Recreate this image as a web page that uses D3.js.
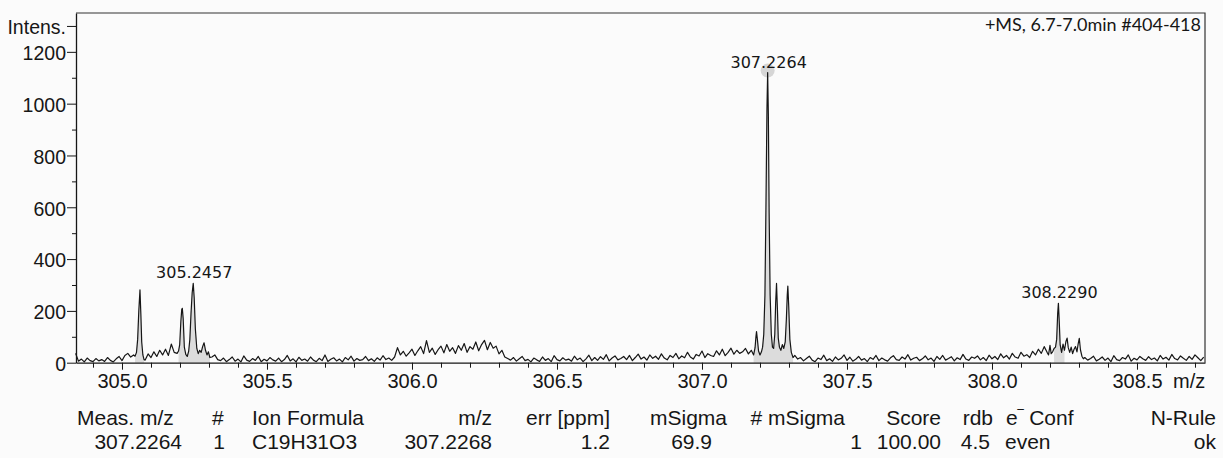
<!DOCTYPE html>
<html>
<head>
<meta charset="utf-8">
<script src="https://cdn.jsdelivr.net/npm/d3@7"></script>
<style>
  html, body { margin: 0; padding: 0; background: #fbfbfb; }
  svg { display: block; }
</style>
</head>
<body>
<svg id="chart" width="1223" height="458"></svg>
<script>
// ---- Spectrum data -------------------------------------------------------
// Baseline profile on a regular m/z grid (one row = 0.1 m/z).
// null marks samples that are covered by a finely sampled peak profile below.
const scanStart = 304.84;
const scanStep = 0.01;
const baselineIntensity = [
  36, 6, 14, 3, 18, 8, 4, 16, 7, 12,
  5, 20, 9, 3, 15, 24, 8, 28, 36, 22,
  30, null, null, null, 10, 34, 20, 42, 24, 48,
  30, 52, 28, 72, 40, 36, null, null, null, null,
  null, null, null, null, null, null, null, 22, 30, 12,
  8, 18, 4, 12, 22, 6, 14, 3, 26, 10,
  5, 16, 9, 24, 4, 13, 7, 20, 11, 6,
  18, 4, 12, 28, 7, 15, 3, 21, 9, 14,
  6, 22, 10, 4, 17, 8, 30, 5, 13, 19,
  7, 14, 3, 20, 11, 25, 6, 16, 9, 12,
  24, 8, 15, 5, 19, 10, 27, 12, 18, 9,
  22, 58, 30, 44, 25, 38, 52, 28, 46, 62,
  35, 85, 40, 56, 32, 50, 64, 38, 70, 44,
  58, 36, 66, 48, 74, 40, 62, 52, 80, 46,
  70, 86, 50, 78, 56, 64, 34, 48, 22, 16,
  10, 20, 6, 15, 24, 8, 13, 3, 18, 11,
  5, 22, 9, 16, 4, 27, 12, 7, 19, 10,
  14, 6, 25, 11, 18, 4, 15, 29, 8, 20,
  9, 23, 13, 31, 7, 18, 26, 11, 16, 24,
  12, 28, 8, 20, 33, 14, 22, 10, 30, 17,
  25, 13, 34, 18, 11, 28, 20, 36, 15, 26,
  19, 40, 22, 14, 32, 26, 45, 20, 35, 28,
  24, 46, 30, 52, 27, 40, 56, 33, 48, 36,
  42, 55, 34, 48, null, null, null, null, null, null,
  null, null, null, null, null, null, null, null, 28, 14,
  20, 7, 16, 25, 10, 4, 18, 12, 29, 8,
  15, 5, 22, 11, 17, 30, 9, 21, 6, 13,
  24, 10, 16, 4, 20, 13, 28, 8, 18, 11,
  6, 19, 27, 12, 9, 22, 14, 31, 10, 17,
  21, 8, 15, 26, 11, 18, 5, 24, 13, 28,
  10, 16, 23, 7, 19, 12, 32, 14, 9, 22,
  17, 26, 11, 20, 8, 29, 15, 24, 12, 34,
  19, 28, 14, 36, 22, 17, 40, 25, 31, 20,
  44, 30, 52, 36, 62, 40, null, null, null, null,
  null, null, null, null, null, null, null, null, 20, 10,
  16, 25, 7, 13, 22, 9, 18, 4, 27, 12,
  8, 20, 14, 30, 6, 17, 11, 24, 15, 9,
  23, 12, 18, 7, 28, 14, 21, 10, 32, 16,
  11, 26, 17, 9, 24, 13, 30, 19, 8, 22
];

// Finely sampled peak profiles, [m/z, intensity]
const peaks305a = [
  [305.045, 25], [305.050, 40], [305.054, 90], [305.058, 200], [305.062, 281],
  [305.065, 190], [305.068, 80], [305.072, 30], [305.076, 12]
];
const peaks305b = [
  [305.195, 45], [305.199, 70], [305.203, 160], [305.206, 205], [305.208, 210],
  [305.211, 170], [305.215, 60], [305.220, 32], [305.225, 24], [305.230, 45],
  [305.234, 90], [305.238, 190], [305.242, 270], [305.2457, 306], [305.249, 250],
  [305.253, 130], [305.258, 55], [305.263, 35], [305.268, 48], [305.273, 40],
  [305.278, 62], [305.283, 77], [305.288, 48], [305.293, 30], [305.298, 42],
  [305.303, 20]
];
const peaks307 = [
  [307.178, 30], [307.183, 58], [307.186, 100], [307.188, 120], [307.191, 90],
  [307.195, 45], [307.200, 30], [307.205, 42], [307.209, 60], [307.213, 110],
  [307.217, 260], [307.2205, 600], [307.2240, 980], [307.2264, 1120], [307.2288, 960],
  [307.2315, 580], [307.235, 260], [307.239, 110], [307.243, 60], [307.247, 55],
  [307.251, 110], [307.254, 230], [307.257, 306], [307.260, 210], [307.263, 95],
  [307.267, 60], [307.272, 48], [307.277, 70], [307.282, 55], [307.287, 80],
  [307.291, 170], [307.294, 260], [307.296, 296], [307.299, 220], [307.303, 90],
  [307.308, 40], [307.314, 20]
];
const peaks308 = [
  [308.195, 30], [308.200, 67], [308.204, 35], [308.209, 42], [308.214, 55],
  [308.219, 60], [308.223, 90], [308.2265, 190], [308.2290, 229], [308.2315, 170],
  [308.235, 70], [308.240, 40], [308.245, 72], [308.250, 48], [308.255, 82],
  [308.259, 95], [308.263, 58], [308.268, 40], [308.273, 60], [308.278, 35],
  [308.283, 52], [308.288, 62], [308.293, 42], [308.297, 72], [308.301, 94],
  [308.305, 50], [308.310, 25], [308.315, 15]
];

// Annotated peaks and integrated (shaded) m/z ranges
const labelledPeaks = [305.2457, 307.2264, 308.2290];
const markedPeak = 307.2264;
const shadedRanges = [[305.045, 305.076], [305.195, 305.303], [307.178, 307.314], [308.214, 308.250]];

// Axis ticks
const xTickValues = [305.0, 305.5, 306.0, 306.5, 307.0, 307.5, 308.0, 308.5];
const xTickLabels = ["305.0", "305.5", "306.0", "306.5", "307.0", "307.5", "308.0", "308.5"];
const yTickValues = [0, 200, 400, 600, 800, 1000, 1200, 1300];
const yTickLabels = ["0", "200", "400", "600", "800", "1000", "1200", "Intens."];

const scanInfo = "+MS, 6.7-7.0min #404-418";

// Formula result table
const tableHeaders = ["Meas. m/z", "#", "Ion Formula", "m/z", "err [ppm]", "mSigma", "# mSigma", "Score", "rdb", "e‾ Conf", "N-Rule"];
const tableValues = ["307.2264", "1", "C19H31O3", "307.2268", "1.2", "69.9", "1", "100.00", "4.5", "even", "ok"];

// ---- Layout ---------------------------------------------------------------
const W = 1223, H = 458;
const plot = { left: 76, right: 1205, top: 13, bottom: 362.7 };
const ink = "#161616";

const svg = d3.select("#chart");
svg.append("rect").attr("width", W).attr("height", H).attr("fill", "#fbfbfb");

const x = d3.scaleLinear().domain([304.8414, 308.7345]).range([plot.left, plot.right]);
const y = d3.scaleLinear().domain([0, 1350]).range([plot.bottom, plot.top]);

// Merge baseline samples with the peak profiles
const peakGroups = [peaks305a, peaks305b, peaks307, peaks308];
const baseline = baselineIntensity
  .map((v, i) => [Math.round((scanStart + i * scanStep) * 1000) / 1000, v])
  .filter(d => d[1] !== null);
const profile = baseline.concat(...peakGroups).sort((a, b) => a[0] - b[0]);

// Shaded peak areas
const area = d3.area().x(d => x(d[0])).y0(y(0)).y1(d => y(d[1]));
svg.append("g").selectAll("path")
  .data(shadedRanges.map(r => profile.filter(d => d[0] >= r[0] && d[0] <= r[1])))
  .join("path")
  .attr("d", area)
  .attr("fill", "#dcdcdc");

// Marker on the base peak
const marked = profile.find(d => d[0] === markedPeak);
svg.append("circle")
  .attr("cx", x(marked[0])).attr("cy", y(marked[1]) - 2).attr("r", 7)
  .attr("fill", "#d6d6d6");

// Spectrum trace
const line = d3.line().x(d => x(d[0])).y(d => y(d[1]));
svg.append("path")
  .datum(profile)
  .attr("d", line)
  .attr("fill", "none")
  .attr("stroke", ink)
  .attr("stroke-width", 1.2)
  .attr("stroke-linejoin", "round");

// Frame (top and right)
svg.append("path")
  .attr("d", `M${plot.left},${plot.top}H${plot.right}V${plot.bottom}`)
  .attr("fill", "none").attr("stroke", "#333").attr("stroke-width", 1.2);

// Y axis: minor then labelled ticks
const yMinor = d3.range(100, 1300, 200);
svg.append("g").attr("transform", `translate(${plot.left},0)`)
  .call(d3.axisLeft(y).tickValues(yMinor).tickSize(4).tickSizeOuter(0).tickFormat(""))
  .call(g => g.select(".domain").remove())
  .call(g => g.selectAll("line").attr("stroke", ink));
const yAxis = svg.append("g").attr("transform", `translate(${plot.left},0)`)
  .call(d3.axisLeft(y).tickValues(yTickValues).tickSize(9).tickSizeOuter(0).tickPadding(1)
    .tickFormat((d, i) => yTickLabels[i]));
yAxis.select(".domain").attr("stroke", ink).attr("stroke-width", 1.3);
yAxis.selectAll("line").attr("stroke", ink);
yAxis.selectAll("text")
  .attr("font-family", "'Liberation Sans', Arial, sans-serif")
  .attr("font-size", 19.5).attr("fill", ink).attr("dy", "0.4em");

// X axis: minor then labelled ticks
const xMinor = d3.range(304.9, 308.75, 0.1).map(v => Math.round(v * 10) / 10)
  .filter(v => !xTickValues.includes(v));
svg.append("g").attr("transform", `translate(0,${plot.bottom})`)
  .call(d3.axisBottom(x).tickValues(xMinor).tickSize(5).tickSizeOuter(0).tickFormat(""))
  .call(g => g.select(".domain").remove())
  .call(g => g.selectAll("line").attr("stroke", ink));
const xAxis = svg.append("g").attr("transform", `translate(0,${plot.bottom})`)
  .call(d3.axisBottom(x).tickValues(xTickValues).tickSize(7).tickSizeOuter(0).tickPadding(4)
    .tickFormat((d, i) => xTickLabels[i]));
xAxis.select(".domain").attr("stroke", ink).attr("stroke-width", 1.3);
xAxis.selectAll("line").attr("stroke", ink);
xAxis.selectAll("text")
  .attr("font-family", "'Liberation Sans', Arial, sans-serif")
  .attr("font-size", 20).attr("fill", ink);

svg.append("text")
  .attr("x", 1173).attr("y", 388)
  .attr("font-family", "'Liberation Sans', Arial, sans-serif")
  .attr("font-size", 20).attr("fill", ink)
  .text("m/z");

// Scan description
svg.append("text")
  .attr("x", 1201).attr("y", 31).attr("text-anchor", "end")
  .attr("font-family", "Lato, 'Open Sans', sans-serif")
  .attr("font-size", 18).attr("fill", ink)
  .text(scanInfo);

// Peak labels
svg.append("g").selectAll("text")
  .data(labelledPeaks.map(mz => profile.find(d => d[0] === mz)))
  .join("text")
  .attr("x", d => x(d[0]) + 1)
  .attr("y", d => y(d[1]) - 5)
  .attr("text-anchor", "middle")
  .attr("font-family", "'DejaVu Sans', sans-serif")
  .attr("font-size", 16)
  .attr("fill", ink)
  .text(d => d[0].toFixed(4));

// Result table
const colX = [77, 212, 252, 492, 610, 727, 845, 941, 993, 1006, 1216];
const headAnchor = ["start", "start", "start", "end", "end", "end", "end", "end", "end", "start", "end"];
const rowX = [182, 225, 252, 492, 610, 712, 862, 941, 990, 1005, 1216];
const rowAnchor = ["end", "end", "start", "end", "end", "end", "end", "end", "end", "start", "end"];
const tableFont = "'Liberation Sans', Arial, sans-serif";
const tableSize = 21;

const head = svg.append("g").selectAll("text")
  .data(tableHeaders)
  .join("text")
  .attr("x", (d, i) => colX[i]).attr("y", 425)
  .attr("text-anchor", (d, i) => headAnchor[i])
  .attr("font-family", tableFont).attr("font-size", tableSize).attr("fill", ink);
head.each(function (d) {
  const t = d3.select(this);
  if (d.startsWith("e‾")) {
    t.append("tspan").text("e");
    t.append("tspan").attr("dy", -3).attr("font-size", 17).text("‾");
    t.append("tspan").attr("dy", 3).text(d.slice(2));
  } else {
    t.text(d);
  }
});

svg.append("g").selectAll("text")
  .data(tableValues)
  .join("text")
  .attr("x", (d, i) => rowX[i]).attr("y", 449)
  .attr("text-anchor", (d, i) => rowAnchor[i])
  .attr("font-family", tableFont).attr("font-size", tableSize).attr("fill", ink)
  .text(d => d);
</script>
</body>
</html>
